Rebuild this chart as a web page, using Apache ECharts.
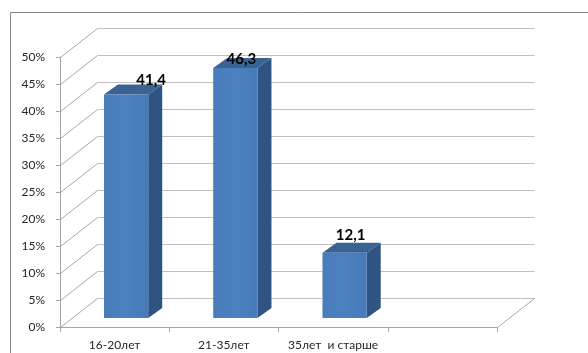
<!DOCTYPE html>
<html>
<head>
<meta charset="utf-8">
<script src="https://cdn.jsdelivr.net/npm/echarts@6/dist/echarts.min.js"></script>
<style>html,body{margin:0;padding:0;background:#fff}#c{width:588px;height:353px}</style>
</head>
<body>
<div id="c"></div>
<script>
// ---- data ----
const categories = ['16-20лет', '21-35лет', '35лет  и старше', ''];
const values = [41.4, 46.3, 12.1];
const valueLabels = ['41,4', '46,3', '12,1'];
const yTicks = [0, 5, 10, 15, 20, 25, 30, 35, 40, 45, 50];

// ---- styling (not data) ----
const labelShift = [[25, -4], [6, 1], [6, -8]];
const DX = 37, DY = -29;        // depth of the 3D box
const BX = 14, BY = -10;        // depth of each bar
const FRONT = 0.31;             // bar front position in depth
const FONT = 'Lato, "Liberation Sans", sans-serif';

const chart = echarts.init(document.getElementById('c'));
const crisp = v => Math.round(v - 0.5) + 0.5;

chart.setOption({
  animation: false,
  grid: { left: 60, right: 91, top: 57, bottom: 26 },
  graphic: [{
    type: 'rect', z: -10,
    shape: { x: 10.5, y: 12.5, width: 700, height: 500 },
    style: { fill: 'none', stroke: '#868686', lineWidth: 1 }
  }],
  xAxis: {
    type: 'category', data: categories,
    axisLine: { lineStyle: { color: '#a6a6a6' } },
    axisTick: { show: true, length: 5, alignWithLabel: false, lineStyle: { color: '#a6a6a6' } },
    axisLabel: { color: '#262626', fontSize: 12, fontFamily: FONT, margin: 12, interval: 0 },
    splitLine: { show: false }
  },
  yAxis: {
    type: 'value', min: 0, max: 50, interval: 5,
    axisLine: { show: true, lineStyle: { color: '#a6a6a6' } },
    axisTick: { show: true, length: 4, lineStyle: { color: '#a6a6a6' } },
    axisLabel: { color: '#262626', fontSize: 12, fontFamily: FONT, margin: 15, formatter: '{value}%' },
    splitLine: { show: false }
  },
  series: [
    {
      type: 'custom', clip: false, z: 1,
      data: yTicks.map(v => [0, v]),
      renderItem: function (params, api) {
        const v = api.value(1);
        const band = api.size([1, 0])[0];
        const p = api.coord([0, v]);
        const x0 = crisp(p[0] - band / 2);
        const y = crisp(p[1]);
        const xr = crisp(api.coord([categories.length - 1, v])[0] + band / 2);
        const children = [
          { type: 'polyline', shape: { points: [[x0, y], [x0 + DX, y + DY]] },
            style: { stroke: '#a6a6a6', lineWidth: 1, fill: null } },
          { type: 'polyline', shape: { points: [[x0 + DX, y + DY], [xr + DX, y + DY]] },
            style: { stroke: '#c0c0c0', lineWidth: 1, fill: null } }
        ];
        if (v === 0) {
          children.push({ type: 'polyline', shape: { points: [[xr, y], [xr + DX, y + DY]] },
            style: { stroke: '#a6a6a6', lineWidth: 1, fill: null } });
        }
        return { type: 'group', children: children };
      }
    },
    {
      type: 'custom', clip: false, z: 5,
      data: values.map((v, i) => [i, v]),
      renderItem: function (params, api) {
        const i = api.value(0), v = api.value(1);
        const band = api.size([1, 0])[0];
        const c = api.coord([i, v]);
        const b = api.coord([i, 0]);
        const w = band * 0.405;
        const ox = DX * FRONT, oy = DY * FRONT;
        const xl = c[0] - w / 2 + ox, xr = xl + w;
        const yt = c[1] + oy, yb = b[1] + oy;
        const sh = labelShift[params.dataIndex];
        return {
          type: 'group',
          children: [
            { type: 'polygon', shape: { points: [[xr, yt], [xr + BX, yt + BY], [xr + BX, yb + BY], [xr, yb]] },
              style: { fill: '#2f5383' } },
            { type: 'polygon', shape: { points: [[xl, yt], [xl + BX, yt + BY], [xr + BX, yt + BY], [xr, yt]] },
              style: { fill: '#3a6293' } },
            { type: 'rect', shape: { x: xl, y: yt, width: w, height: yb - yt },
              style: { fill: new echarts.graphic.LinearGradient(0, 0, 1, 0, [
                { offset: 0, color: '#497cbb' }, { offset: 0.5, color: '#4c80bf' }, { offset: 1, color: '#477ab9' }]) } },
            { type: 'text', z2: 10,
              style: { text: valueLabels[params.dataIndex], x: (xl + xr) / 2 + sh[0], y: yt + BY + sh[1],
                align: 'center', verticalAlign: 'middle', fill: '#000',
                font: 'bold 15px ' + FONT } }
          ]
        };
      }
    }
  ]
});
</script>
</body>
</html>
